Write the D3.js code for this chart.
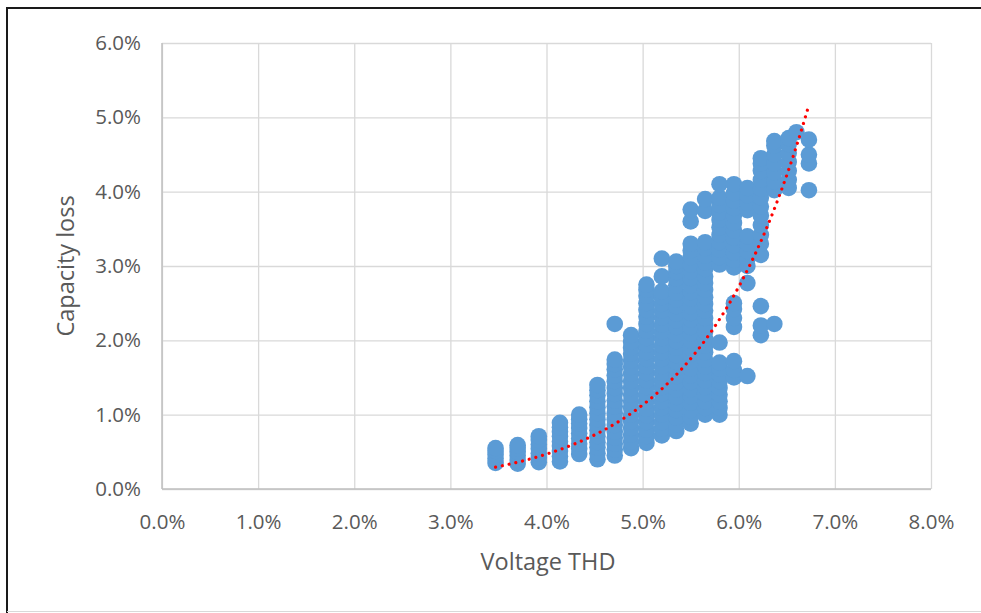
<!DOCTYPE html>
<html>
<head>
<meta charset="utf-8">
<script src="https://cdn.jsdelivr.net/npm/d3@7/dist/d3.min.js"></script>
<style>
  html, body { margin: 0; padding: 0; background: #ffffff; }
  svg { display: block; }
  text { font-family: "Open Sans", "Noto Sans", "Liberation Sans", sans-serif; }
</style>
</head>
<body>
<svg id="chart" width="981" height="613"></svg>
<script>
// Voltage THD levels (%) at which capacity loss was measured
const thdLevels = [3.47, 3.70, 3.92, 4.14, 4.34, 4.53, 4.71, 4.88, 5.04, 5.20, 5.35,
                   5.50, 5.65, 5.80, 5.95, 6.09, 6.23, 6.37, 6.52, 6.60, 6.73];

// Capacity loss readings (%) for each THD level, same order as thdLevels
const lossAt347 = [0.35, 0.41, 0.46, 0.51, 0.55];
const lossAt370 = [0.34, 0.39, 0.45, 0.50, 0.55, 0.59];
const lossAt392 = [0.36, 0.42, 0.48, 0.54, 0.60, 0.66, 0.71];
const lossAt414 = [0.37, 0.44, 0.51, 0.58, 0.64, 0.71, 0.77, 0.83, 0.89];
const lossAt434 = [0.47, 0.54, 0.61, 0.68, 0.75, 0.82, 0.88, 0.94, 1.00];
const lossAt453 = [0.40, 0.48, 0.56, 0.63, 0.71, 0.79, 0.86, 0.94, 1.02, 1.10, 1.18, 1.26, 1.33, 1.40];
const lossAt471 = [0.45, 0.53, 0.61, 0.69, 0.77, 0.86, 0.94, 1.02, 1.11, 1.19, 1.28, 1.36, 1.45,
                   1.53, 1.61, 1.68, 1.74, 2.22];
const lossAt488 = [0.55, 0.64, 0.73, 0.82, 0.91, 1.00, 1.09, 1.18, 1.27, 1.36, 1.45, 1.55, 1.64,
                   1.73, 1.82, 1.90, 1.98, 2.07];
const lossAt504 = [0.62, 0.71, 0.80, 0.90, 0.99, 1.08, 1.18, 1.27, 1.37, 1.46, 1.56, 1.65, 1.75,
                   1.84, 1.94, 2.03, 2.13, 2.22, 2.32, 2.41, 2.50, 2.60, 2.68, 2.75];
const lossAt520 = [0.72, 0.81, 0.90, 1.00, 1.09, 1.18, 1.28, 1.37, 1.46, 1.56, 1.65, 1.75, 1.84,
                   1.93, 2.03, 2.12, 2.21, 2.31, 2.40, 2.49, 2.58, 2.66, 2.86, 3.10];
const lossAt535 = [0.78, 0.87, 0.96, 1.06, 1.15, 1.24, 1.34, 1.43, 1.52, 1.62, 1.71, 1.80, 1.90,
                   1.99, 2.08, 2.18, 2.27, 2.36, 2.46, 2.55, 2.64, 2.74, 2.83, 2.92, 3.00, 3.06];
const lossAt550 = [0.88, 0.97, 1.06, 1.16, 1.25, 1.34, 1.44, 1.53, 1.62, 1.72, 1.81, 1.90, 2.00,
                   2.09, 2.18, 2.28, 2.37, 2.46, 2.56, 2.65, 2.74, 2.84, 2.93, 3.02, 3.12, 3.21,
                   3.30, 3.60, 3.76];
const lossAt565 = [1.00, 1.09, 1.18, 1.28, 1.37, 1.46, 1.56, 1.65, 1.74, 1.84, 1.93, 2.02, 2.12,
                   2.21, 2.30, 2.40, 2.49, 2.58, 2.68, 2.77, 2.86, 2.96, 3.05, 3.14, 3.24, 3.32,
                   3.74, 3.90];
const lossAt580 = [1.00, 1.09, 1.18, 1.27, 1.36, 1.45, 1.54, 1.62, 1.70, 1.97, 3.02, 3.12, 3.22,
                   3.32, 3.42, 3.52, 3.62, 3.72, 3.82, 3.92, 4.10];
const lossAt595 = [1.50, 1.60, 1.72, 2.18, 2.30, 2.42, 2.50, 2.98, 3.08, 3.18, 3.28, 3.38, 3.48,
                   3.58, 3.68, 3.78, 3.88, 3.98, 4.10];
const lossAt609 = [1.52, 2.77, 3.00, 3.10, 3.20, 3.30, 3.40, 3.75, 3.85, 3.95, 4.05];
const lossAt623 = [2.07, 2.20, 2.46, 3.15, 3.30, 3.42, 3.55, 3.68, 3.80, 3.92, 4.04, 4.16, 4.28,
                   4.38, 4.45];
const lossAt637 = [2.22, 4.02, 4.14, 4.26, 4.38, 4.50, 4.62, 4.68];
const lossAt652 = [4.05, 4.16, 4.28, 4.40, 4.52, 4.64, 4.72];
const lossAt660 = [4.80];
const lossAt673 = [4.02, 4.38, 4.50, 4.70];

const lossByLevel = [lossAt347, lossAt370, lossAt392, lossAt414, lossAt434, lossAt453, lossAt471,
                     lossAt488, lossAt504, lossAt520, lossAt535, lossAt550, lossAt565, lossAt580,
                     lossAt595, lossAt609, lossAt623, lossAt637, lossAt652, lossAt660, lossAt673];

// Exponential trendline: loss = trendA * exp(trendB * thd), both in %
const trendA = 0.01394;
const trendB = 0.879;

// Axis ticks and labels
const xTicks = [0, 1, 2, 3, 4, 5, 6, 7, 8];
const xTickLabels = ["0.0%", "1.0%", "2.0%", "3.0%", "4.0%", "5.0%", "6.0%", "7.0%", "8.0%"];
const yTicks = [0, 1, 2, 3, 4, 5, 6];
const yTickLabels = ["0.0%", "1.0%", "2.0%", "3.0%", "4.0%", "5.0%", "6.0%"];
const xTitle = "Voltage THD";
const yTitle = "Capacity loss";

// ---- layout ----
const svg = d3.select("#chart");
const W = 981, H = 613;
const plot = { left: 162, right: 931, top: 43, bottom: 489 };
const textColor = "#595959";

const x = d3.scaleLinear().domain([0, 8]).range([plot.left, plot.right]);
const y = d3.scaleLinear().domain([0, 6]).range([plot.bottom, plot.top]);

// outer frame
svg.append("rect").attr("x", 0).attr("y", 0).attr("width", W).attr("height", H).attr("fill", "#ffffff");
svg.append("line").attr("x1", 6).attr("x2", W).attr("y1", 8).attr("y2", 8)
  .attr("stroke", "#1a1a1a").attr("stroke-width", 2);
svg.append("line").attr("x1", 7).attr("x2", 7).attr("y1", 8).attr("y2", H)
  .attr("stroke", "#1a1a1a").attr("stroke-width", 2);
svg.append("line").attr("x1", 7).attr("x2", W).attr("y1", 611.5).attr("y2", 611.5)
  .attr("stroke", "#d9d9d9").attr("stroke-width", 1);

// gridlines
const grid = svg.append("g").attr("class", "grid");
grid.append("g")
  .attr("transform", `translate(0,${plot.bottom})`)
  .call(d3.axisBottom(x).tickValues(xTicks).tickSize(-(plot.bottom - plot.top)).tickFormat(""))
  .call(g => g.select(".domain").remove())
  .call(g => g.selectAll(".tick line").attr("stroke", "#d9d9d9").attr("stroke-width", 1.3));
grid.append("g")
  .attr("transform", `translate(${plot.left},0)`)
  .call(d3.axisLeft(y).tickValues(yTicks).tickSize(-(plot.right - plot.left)).tickFormat(""))
  .call(g => g.select(".domain").remove())
  .call(g => g.selectAll(".tick line").attr("stroke", "#d9d9d9").attr("stroke-width", 1.3));

// axis lines
svg.append("line").attr("x1", plot.left).attr("x2", plot.right)
  .attr("y1", plot.bottom).attr("y2", plot.bottom)
  .attr("stroke", "#bfbfbf").attr("stroke-width", 1.5);
svg.append("line").attr("x1", plot.left).attr("x2", plot.left)
  .attr("y1", plot.top).attr("y2", plot.bottom)
  .attr("stroke", "#bfbfbf").attr("stroke-width", 1.5);

// tick labels
const xAxis = svg.append("g")
  .attr("transform", `translate(0,${plot.bottom})`)
  .call(d3.axisBottom(x).tickValues(xTicks).tickSize(0).tickPadding(25)
        .tickFormat((d, i) => xTickLabels[i]));
xAxis.select(".domain").remove();
xAxis.selectAll("text").attr("fill", textColor).style("font-size", "20.5px");

const yAxis = svg.append("g")
  .attr("transform", `translate(${plot.left},0)`)
  .call(d3.axisLeft(y).tickValues(yTicks).tickSize(0).tickPadding(21)
        .tickFormat((d, i) => yTickLabels[i]));
yAxis.select(".domain").remove();
yAxis.selectAll("text").attr("fill", textColor).style("font-size", "20.5px");

// axis titles
svg.append("text")
  .attr("x", 548).attr("y", 570)
  .attr("text-anchor", "middle").attr("fill", textColor).style("font-size", "23.5px")
  .text(xTitle);
svg.append("text")
  .attr("transform", `translate(74,${(plot.top + plot.bottom) / 2}) rotate(-90)`)
  .attr("text-anchor", "middle").attr("fill", textColor).style("font-size", "23.5px")
  .text(yTitle);

// scatter points
const points = thdLevels.flatMap((t, i) => lossByLevel[i].map(v => ({ thd: t, loss: v })));
svg.append("g").selectAll("circle")
  .data(points)
  .join("circle")
  .attr("cx", d => x(d.thd))
  .attr("cy", d => y(d.loss))
  .attr("r", 8.3)
  .attr("fill", "#5b9bd5");

// exponential trendline over the measured THD range
const [tMin, tMax] = d3.extent(thdLevels);
const trend = d3.range(0, 101).map(k => {
  const t = tMin + (tMax - tMin) * k / 100;
  return { thd: t, loss: trendA * Math.exp(trendB * t) };
});
svg.append("path")
  .datum(trend)
  .attr("d", d3.line().x(d => x(d.thd)).y(d => y(d.loss)))
  .attr("fill", "none")
  .attr("stroke", "#ff0000")
  .attr("stroke-width", 3.2)
  .attr("stroke-linecap", "round")
  .attr("stroke-dasharray", "0.01 6.9");
</script>
</body>
</html>
